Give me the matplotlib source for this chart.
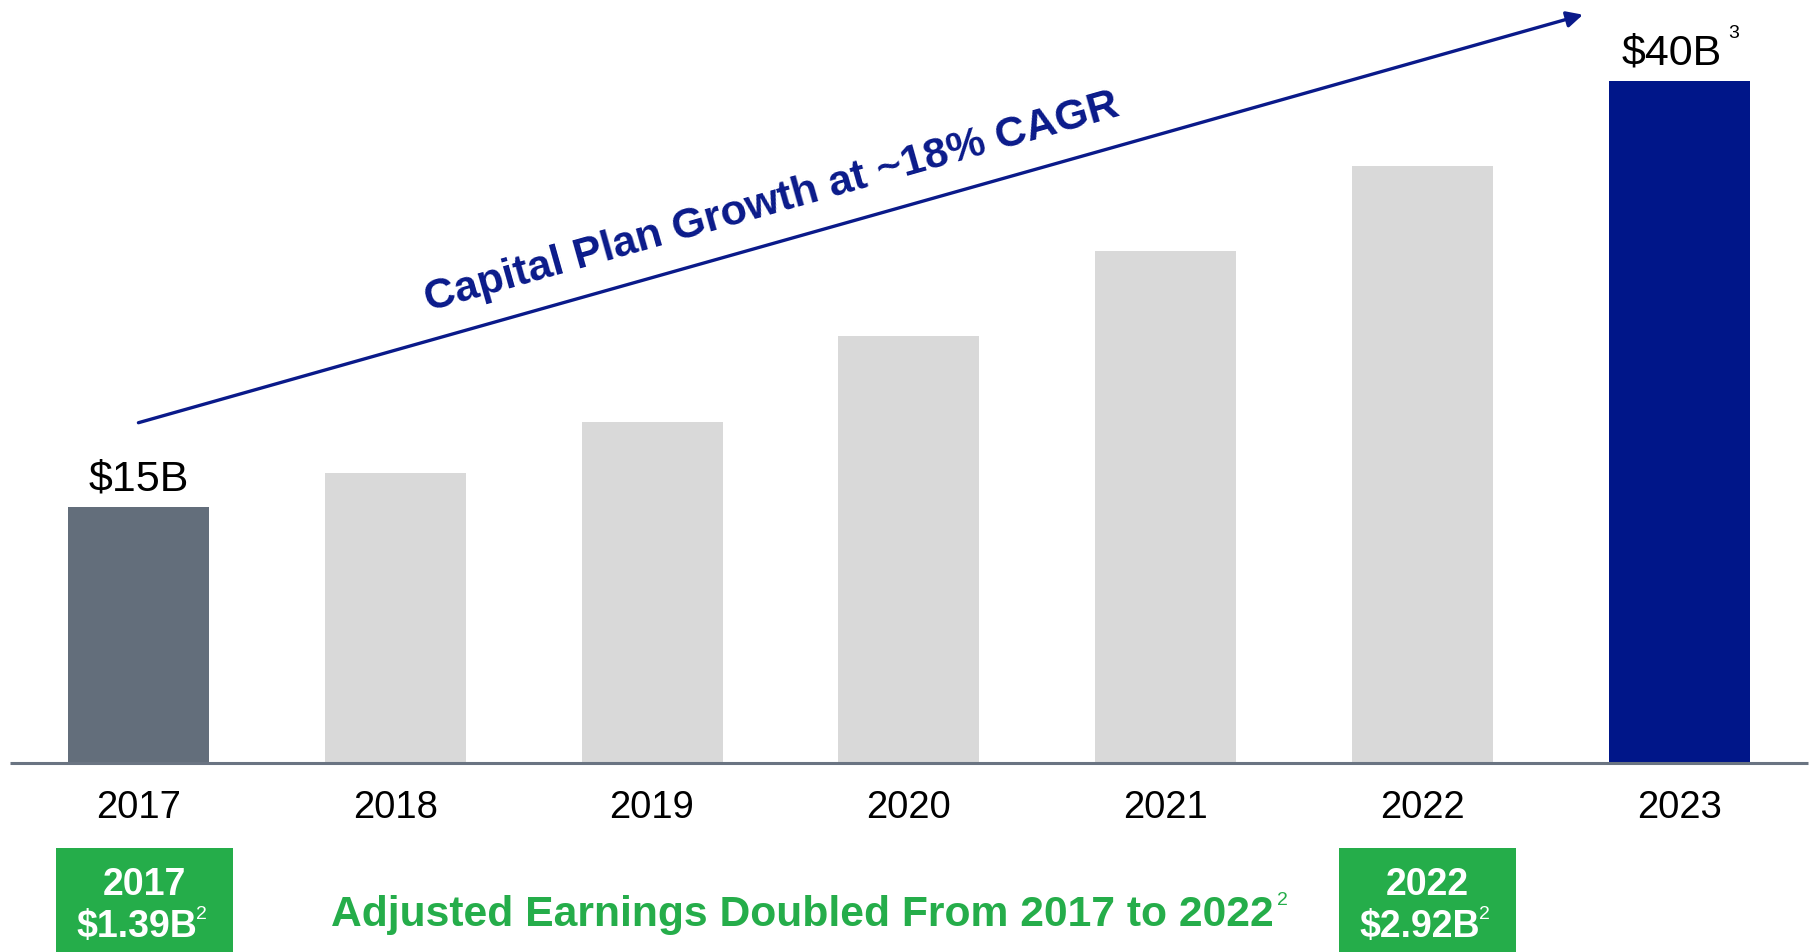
import matplotlib.pyplot as plt

plt.rcParams['font.family'] = ['Liberation Sans', 'DejaVu Sans']

years = ['2017', '2018', '2019', '2020', '2021', '2022', '2023']
capital = [15, 17, 20, 25, 30, 35, 40]
bar_colors = ['#636e7b', '#d9d9d9', '#d9d9d9', '#d9d9d9', '#d9d9d9', '#d9d9d9', '#001689']
value_labels = {0: '$15B', 6: '$40B'}
value_notes = {6: '3'}
earnings_years = ['2017', '2022']
earnings = ['$1.39B', '$2.92B']
earnings_idx = [0, 5]

navy = '#0a1a8a'
green = '#25ad4a'

fig = plt.figure(figsize=(18.12, 9.53), dpi=100)
ax = fig.add_axes([0, 0, 1, 1])
ax.set_xlim(-0.539, 6.517)
ax.set_ylim(-11.10, 44.79)
ax.axis('off')

x = list(range(len(years)))
ax.bar(x, capital, width=0.549, color=bar_colors, zorder=2)

# baseline
ax.plot([-0.50, 6.50], [0, 0], color='#6a7482', lw=2.2, zorder=3, solid_capstyle='butt')

for i, yr in enumerate(years):
    ax.text(i, -2.62, yr, ha='center', va='center', fontsize=27.5, color='black')

for i, lab in value_labels.items():
    t = ax.text(i - (0.03 if i in value_notes else 0), capital[i] + 1.65, lab,
                ha='center', va='center', fontsize=31, color='black')
    if i in value_notes:
        ax.annotate(value_notes[i], xy=(1, 1), xycoords=t, xytext=(5, 6),
                    textcoords='offset points', ha='left', va='top',
                    fontsize=14, color='black')

# growth arrow
ax.annotate('', xy=(5.625, 43.87), xytext=(0, 19.94),
            arrowprops=dict(arrowstyle='-|>', color=navy, lw=2.4,
                            mutation_scale=24, shrinkA=0, shrinkB=0))
ax.text(2.466, 32.9, 'Capital Plan Growth at ~18% CAGR', rotation=15.8,
        rotation_mode='anchor', ha='center', va='center', fontsize=31,
        fontweight='bold', color=navy)

# earnings boxes
for k, i in enumerate(earnings_idx):
    cx = i + (0.023 if i == 0 else 0.02)
    ax.bar(cx, -6.3, bottom=-5.0, width=0.689, color=green, zorder=2)
    ax.text(cx, -7.1, earnings_years[k], ha='center', va='center',
            fontsize=27, fontweight='bold', color='white', zorder=4)
    t = ax.text(cx - 0.03, -9.56, earnings[k], ha='center', va='center',
                fontsize=27, fontweight='bold', color='white', zorder=4)
    ax.annotate('2', xy=(1, 1), xycoords=t, xytext=(-1, 2),
                textcoords='offset points', ha='left', va='top',
                fontsize=14, color='white', zorder=4)

t = ax.text(2.587, -8.86, 'Adjusted Earnings Doubled From 2017 to 2022',
            ha='center', va='center', fontsize=30.7, fontweight='bold', color=green)
ax.annotate('2', xy=(1, 1), xycoords=t, xytext=(2, 2),
            textcoords='offset points', ha='left', va='top',
            fontsize=14, color=green)

fig.savefig('out.png', dpi=100)
